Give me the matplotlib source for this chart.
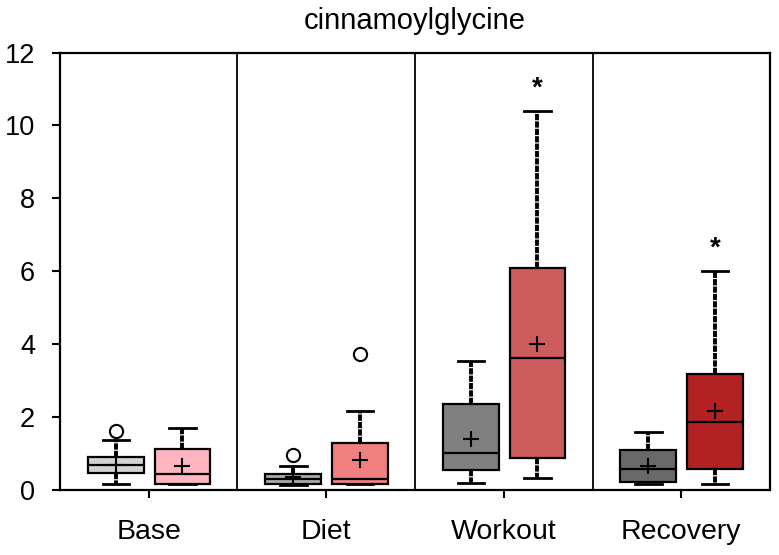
import matplotlib.pyplot as plt

plt.rcParams['font.family'] = ['Liberation Sans', 'DejaVu Sans']

groups = ['Base', 'Diet', 'Workout', 'Recovery']

# control (grey) boxes
grey_low = [0.16, 0.15, 0.19, 0.17]
grey_q1 = [0.46, 0.18, 0.55, 0.23]
grey_med = [0.68, 0.30, 1.03, 0.58]
grey_q3 = [0.92, 0.45, 2.35, 1.09]
grey_high = [1.38, 0.65, 3.53, 1.60]
grey_mean = [0.70, 0.35, 1.41, 0.67]
grey_fliers = [[1.61], [0.97], [], []]

# treated (red) boxes
red_low = [0.16, 0.16, 0.32, 0.17]
red_q1 = [0.17, 0.18, 0.89, 0.58]
red_med = [0.43, 0.30, 3.62, 1.87]
red_q3 = [1.13, 1.29, 6.08, 3.17]
red_high = [1.70, 2.16, 10.40, 6.00]
red_mean = [0.67, 0.82, 4.00, 2.16]
red_fliers = [[], [3.74], [], []]

significant = ['', '', '*', '*']

grey_colors = ['#d3d3d3', '#a9a9a9', '#808080', '#696969']
red_colors = ['#ffb6c1', '#f08080', '#cd5c5c', '#b22222']


def makeStats(low, q1, med, q3, high, mean, fliers):
    stats = []
    for i in range(len(low)):
        stats.append({'whislo': low[i], 'q1': q1[i], 'med': med[i], 'q3': q3[i],
                      'whishi': high[i], 'mean': mean[i], 'fliers': fliers[i]})
    return stats


grey_stats = makeStats(grey_low, grey_q1, grey_med, grey_q3, grey_high, grey_mean, grey_fliers)
red_stats = makeStats(red_low, red_q1, red_med, red_q3, red_high, red_mean, red_fliers)

fig, ax = plt.subplots(figsize=(7.79, 5.55), dpi=100)
fig.subplots_adjust(left=0.077, right=0.9885, bottom=0.117, top=0.9054)

style = dict(
    widths=0.315,
    patch_artist=True,
    showmeans=True,
    manage_ticks=False,
    capwidths=0.15,
    boxprops=dict(edgecolor='black', linewidth=1.6),
    medianprops=dict(color='black', linewidth=1.6),
    whiskerprops=dict(color='black', linewidth=2.8, linestyle=(0, (1.6, 0.3))),
    capprops=dict(color='black', linewidth=2),
    meanprops=dict(marker='+', markersize=12, markeredgecolor='black', markeredgewidth=1.5),
    flierprops=dict(marker='o', markersize=9.5, markerfacecolor='white',
                    markeredgecolor='black', markeredgewidth=1.5),
)

pos = list(range(len(groups)))
g = ax.bxp(grey_stats, positions=[p - 0.185 for p in pos], **style)
r = ax.bxp(red_stats, positions=[p + 0.19 for p in pos], **style)
for box, c in zip(g['boxes'], grey_colors):
    box.set_facecolor(c)
for box, c in zip(r['boxes'], red_colors):
    box.set_facecolor(c)

# asterisks above significant boxes
for i, s in enumerate(significant):
    if s:
        ax.text(i + 0.19, red_high[i] + 0.62, s, ha='center', va='center',
                fontsize=20, fontweight='bold')

for x in [0.5, 1.5, 2.5]:
    ax.axvline(x, color='black', linewidth=1.3)

ax.set_xlim(-0.5, 3.5)
ax.set_ylim(0, 12)
ax.set_yticks([0, 2, 4, 6, 8, 10, 12])
ax.set_xticks(pos)
ax.set_xticklabels(groups)
ax.tick_params(axis='y', labelsize=19.5, length=6, width=1.5, pad=12)
ax.tick_params(axis='x', labelsize=20.5, length=6, width=1.5, pad=15)
for sp in ax.spines.values():
    sp.set_linewidth(1.6)
ax.set_title('cinnamoylglycine', fontsize=21, pad=17)

fig.savefig('out.png', dpi=100)
